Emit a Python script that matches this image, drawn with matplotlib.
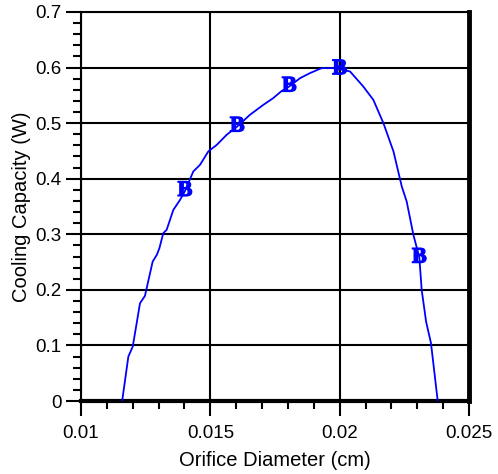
import numpy as np
import matplotlib.pyplot as plt
import matplotlib.patheffects as pe
from matplotlib.ticker import MultipleLocator

# curve
diam = [0.01159, 0.01183, 0.0120, 0.01228, 0.01247, 0.01277, 0.01293, 0.01303,
        0.01318, 0.01331, 0.01357, 0.01383, 0.01402, 0.01434, 0.0146, 0.01492,
        0.01525, 0.01563, 0.01604, 0.01653, 0.01705, 0.01743, 0.01776, 0.01805,
        0.01847, 0.01885, 0.0193, 0.0198, 0.0200, 0.0204, 0.02091, 0.0213,
        0.02169, 0.02208, 0.0224, 0.02259, 0.02285, 0.02308, 0.02317, 0.02334,
        0.02353, 0.02379]
cap = [0.0, 0.080, 0.098, 0.176, 0.189, 0.251, 0.263, 0.275,
       0.302, 0.308, 0.344, 0.362, 0.378, 0.413, 0.425, 0.449,
       0.461, 0.479, 0.494, 0.515, 0.533, 0.545, 0.558, 0.566,
       0.581, 0.590, 0.599, 0.599, 0.597, 0.593, 0.566, 0.542,
       0.500, 0.449, 0.386, 0.359, 0.299, 0.258, 0.200, 0.143,
       0.104, 0.0]

# "B" symbols
mark_x = [0.01402, 0.01604, 0.01805, 0.0200, 0.02308]
mark_y = [0.378, 0.494, 0.566, 0.597, 0.258]

fig = plt.figure(figsize=(4.98, 4.74), dpi=100)
ax = fig.add_axes([0.1627, 0.154, 0.7791, 0.8207])

ax.plot(diam, cap, color='#0000ff', lw=1.3, zorder=3)
for mx, my in zip(mark_x, mark_y):
    ax.text(mx, my, 'B', color='#0000ff', fontsize=16, fontweight='bold',
            family='Liberation Serif', ha='center', va='center', zorder=4,
            path_effects=[pe.withStroke(linewidth=0.9, foreground='#0000ff')])

ax.set_xlim(0.01, 0.025)
ax.set_ylim(0, 0.7)
ax.xaxis.set_major_locator(MultipleLocator(0.005))
ax.xaxis.set_minor_locator(MultipleLocator(0.001))
ax.yaxis.set_major_locator(MultipleLocator(0.1))
ax.yaxis.set_minor_locator(MultipleLocator(0.02))
ax.xaxis.set_major_formatter(plt.FuncFormatter(lambda v, p: '%g' % round(v, 4)))
ax.yaxis.set_major_formatter(plt.FuncFormatter(lambda v, p: '%g' % round(v, 2)))

ax.grid(True, which='major', color='black', lw=1.5)
ax.set_axisbelow(True)

ax.tick_params(which='major', direction='out', length=11, width=1.5,
               labelsize=13.5, colors='black')
ax.tick_params(axis='x', which='major', pad=6)
ax.tick_params(axis='y', which='major', pad=3)
ax.tick_params(which='minor', direction='out', length=6, width=1.5)
for lbl in ax.get_xticklabels() + ax.get_yticklabels():
    lbl.set_family('Liberation Sans')

ax.spines['left'].set_linewidth(1.5)
ax.spines['top'].set_linewidth(1.5)
ax.spines['bottom'].set_linewidth(3)
ax.spines['right'].set_linewidth(3.5)

ax.set_xlabel('Orifice Diameter (cm)', family='Liberation Sans', fontsize=14.5, labelpad=7)
ax.set_ylabel('Cooling Capacity (W)', family='Liberation Sans', fontsize=14.5, labelpad=3)

fig.savefig('out.png', dpi=100)
